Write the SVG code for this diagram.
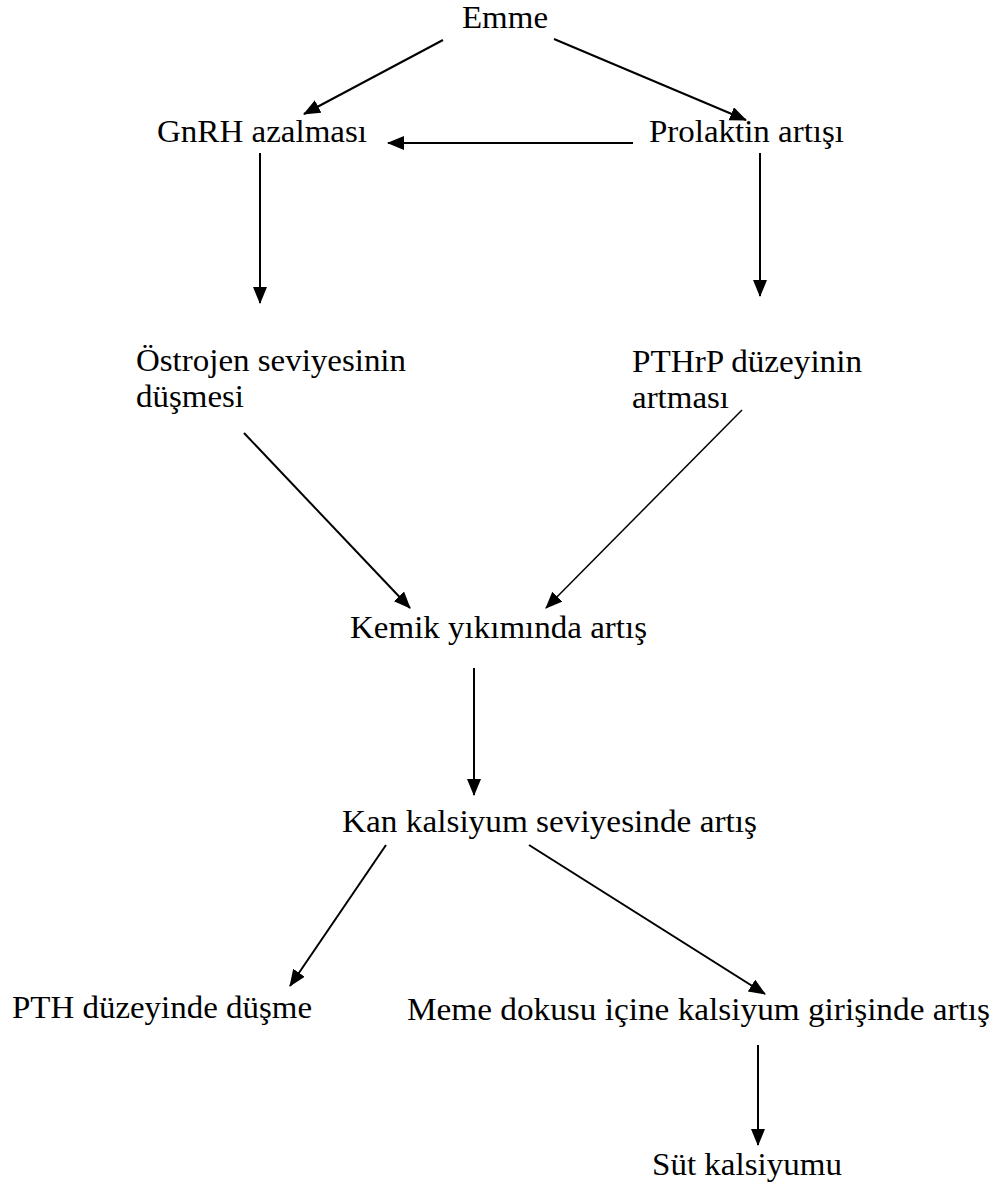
<svg xmlns="http://www.w3.org/2000/svg" width="996" height="1188" viewBox="0 0 996 1188">
<style>
text{font-family:"Liberation Serif","Times New Roman",serif;font-size:31px;fill:#000}
.c line{stroke:#000;stroke-width:2;fill:none;marker-end:url(#ah)}
</style>
<defs>
<marker id="ah" markerUnits="userSpaceOnUse" markerWidth="20" markerHeight="16" refX="16" refY="7" orient="auto">
<path d="M0,0 L17,7 L0,14 z" fill="#000"/>
</marker>
</defs>
<rect width="996" height="1188" fill="#fff"/>
<g class="c" id="connectors">
<line x1="443" y1="40" x2="304" y2="114"/>
<line x1="554" y1="39" x2="746" y2="120"/>
<line x1="633" y1="143" x2="388" y2="143"/>
<line x1="260" y1="153" x2="260" y2="303"/>
<line x1="760" y1="153" x2="760" y2="296"/>
<line x1="244" y1="433" x2="410" y2="608"/>
<line x1="742" y1="410" x2="546" y2="608" style="stroke-width:1.5"/>
<line x1="474" y1="668" x2="474" y2="795"/>
<line x1="386" y1="845" x2="290" y2="986"/>
<line x1="529" y1="845" x2="765" y2="994"/>
<line x1="758" y1="1045" x2="758" y2="1145"/>
</g>
<g id="n-emme"><text x="462" y="28" textLength="86" lengthAdjust="spacingAndGlyphs">Emme</text></g>
<g id="n-gnrh"><text x="157" y="142" textLength="210" lengthAdjust="spacingAndGlyphs">GnRH azalması</text></g>
<g id="n-prolaktin"><text x="649" y="142" textLength="195" lengthAdjust="spacingAndGlyphs">Prolaktin artışı</text></g>
<g id="n-ostrojen"><text x="136" y="371" textLength="270" lengthAdjust="spacingAndGlyphs">Östrojen seviyesinin</text><text x="136" y="407" textLength="108" lengthAdjust="spacingAndGlyphs">düşmesi</text></g>
<g id="n-pthrp"><text x="632" y="372" textLength="230" lengthAdjust="spacingAndGlyphs">PTHrP düzeyinin</text><text x="632" y="408" textLength="97" lengthAdjust="spacingAndGlyphs">artması</text></g>
<g id="n-kemik"><text x="350" y="638" textLength="297" lengthAdjust="spacingAndGlyphs">Kemik yıkımında artış</text></g>
<g id="n-kan"><text x="342" y="832" textLength="415" lengthAdjust="spacingAndGlyphs">Kan kalsiyum seviyesinde artış</text></g>
<g id="n-pth"><text x="12" y="1018" textLength="300" lengthAdjust="spacingAndGlyphs">PTH düzeyinde düşme</text></g>
<g id="n-meme"><text x="407" y="1020" textLength="583" lengthAdjust="spacingAndGlyphs">Meme dokusu içine kalsiyum girişinde artış</text></g>
<g id="n-sut"><text x="652" y="1175" textLength="190" lengthAdjust="spacingAndGlyphs">Süt kalsiyumu</text></g>
</svg>
